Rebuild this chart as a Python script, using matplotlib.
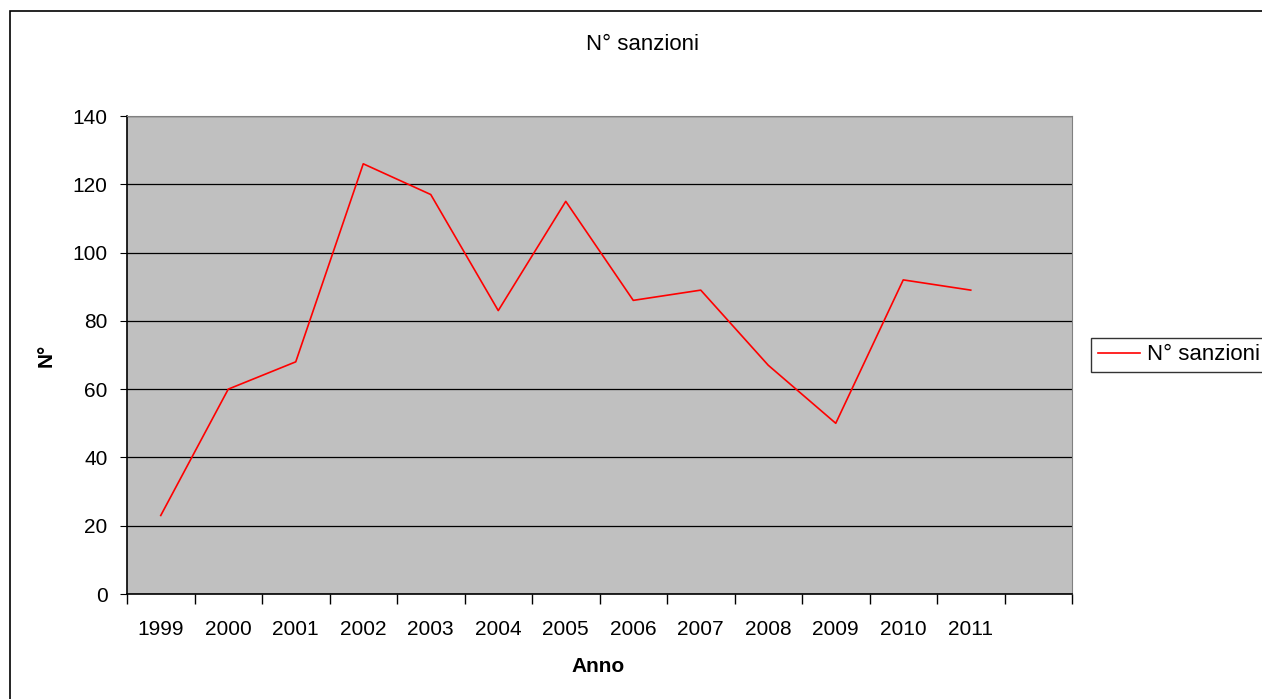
import matplotlib

matplotlib.use("Agg")
import matplotlib.pyplot as plt
from matplotlib.patches import Rectangle
from matplotlib.ticker import FixedLocator, NullFormatter

plt.rcParams["font.family"] = ["Liberation Sans", "DejaVu Sans"]

# Dati
anni = ["1999", "2000", "2001", "2002", "2003", "2004", "2005",
        "2006", "2007", "2008", "2009", "2010", "2011"]
sanzioni = [23, 60, 68, 126, 117, 83, 115, 86, 89, 67, 50, 92, 89]
n_slot = 14  # categoria finale vuota come nell'originale
y_ticks = [0, 20, 40, 60, 80, 100, 120, 140]

W, H = 1262, 699
fig = plt.figure(figsize=(W / 100, H / 100), dpi=100)
# cornice esterna del grafico (esce dai bordi a destra e in basso)
fig.patches.append(Rectangle((10 / W, -0.05), 1.2, 1 - 11 / H + 0.05,
                             transform=fig.transFigure, fill=False,
                             edgecolor="black", linewidth=1.2))

ax = fig.add_axes([127 / W, 1 - 594 / H, 945 / W, 478 / H])
ax.set_facecolor("#c0c0c0")

x = list(range(len(anni)))
line, = ax.plot(x, sanzioni, color="#ff0000", linewidth=1.2, label="N° sanzioni")

ax.set_xlim(-0.5, n_slot - 0.5)
ax.set_ylim(0, 140)
ax.set_yticks(y_ticks)
ax.yaxis.grid(True, color="black", linewidth=0.9)
ax.set_axisbelow(True)

ax.set_xticks(x)
ax.set_xticklabels(anni)
ax.tick_params(axis="x", length=0, labelsize=15, pad=19)
ax.xaxis.set_minor_locator(FixedLocator([i - 0.5 for i in range(n_slot + 1)]))
ax.xaxis.set_minor_formatter(NullFormatter())
ax.tick_params(axis="x", which="minor", length=7, width=1, direction="out")
ax.tick_params(axis="y", length=5, labelsize=15, direction="out", pad=9)

for s in ("top", "right"):
    ax.spines[s].set_color("#808080")
for s in ("left", "bottom"):
    ax.spines[s].set_color("black")
    ax.spines[s].set_linewidth(1.2)

fig.text(598 / W, 1 - 667 / H, "Anno", fontsize=15, fontweight="bold",
         ha="center", va="center")
fig.text(46 / W, 1 - 355 / H, "N°", fontsize=15, fontweight="bold",
         rotation=90, ha="center", va="center")
fig.text(642 / W, 1 - 44 / H, "N° sanzioni", fontsize=16,
         ha="center", va="center")

leg = fig.legend(handles=[line], loc="center left",
                 bbox_to_anchor=(1091 / W, 1 - 355 / H), fontsize=16,
                 frameon=True, fancybox=False, handlelength=1.9,
                 borderpad=0.3, borderaxespad=0, handletextpad=0.3)
leg.get_frame().set_edgecolor("black")
leg.get_frame().set_linewidth(1.0)

fig.savefig("out.png", dpi=100)
